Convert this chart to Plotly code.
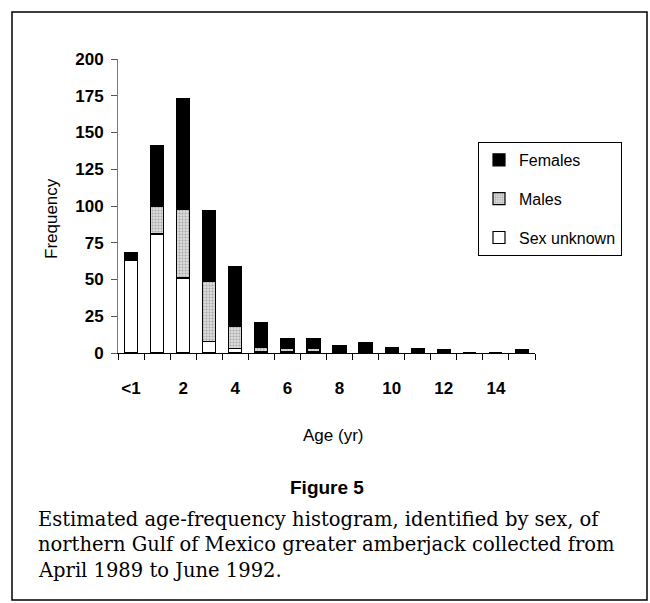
import plotly.graph_objects as go

# ---- data ----
ages = [0, 1, 2, 3, 4, 5, 6, 7, 8, 9, 10, 11, 12, 13, 14, 15]
tick_vals = [0, 2, 4, 6, 8, 10, 12, 14]
tick_text = ["<1", "2", "4", "6", "8", "10", "12", "14"]
sex_unknown = [63, 81, 51, 8, 3, 1, 1, 1, 0, 0, 0, 0, 0, 0, 0, 0]
males = [0, 19, 47, 41, 15, 3, 2, 2, 0, 1, 0, 0, 0, 0, 0, 0]
females = [5, 41, 75, 48, 41, 17, 7, 7, 5, 6, 4, 3, 2, 0, 0, 2]
y_ticks = [0, 25, 50, 75, 100, 125, 150, 175, 200]
grid_vals = [25, 50, 75, 100, 125, 150, 175]

W, H = 650, 603
L, R, T, B = 118, 535, 59, 353  # plot area in pixels


def px(x):
    return (x - L) / (R - L)


def py(y):
    return (B - y) / (B - T)


fig = go.Figure()
fig.add_trace(go.Bar(
    x=ages, y=sex_unknown, name="Sex unknown", legendgroup="c", legendrank=3,
    marker=dict(color="white", line=dict(color="black", width=1.2)),
))
fig.add_trace(go.Bar(
    x=ages, y=males, name="Males", legendgroup="b", legendrank=2,
    marker=dict(color="#d4d4d4", line=dict(color="black", width=1.2),
                pattern=dict(shape=".", fgcolor="#707070", bgcolor="#dcdcdc",
                             size=3, solidity=0.35)),
))
fig.add_trace(go.Bar(
    x=ages, y=females, name="Females", legendgroup="a", legendrank=1,
    marker=dict(color="black", line=dict(color="black", width=1.2)),
))

font_sans = "Liberation Sans, Arial, sans-serif"

fig.update_layout(
    barmode="stack",
    bargap=0.5,
    width=W, height=H,
    margin=dict(l=L, r=W - R, t=T, b=H - B, pad=0),
    paper_bgcolor="white",
    plot_bgcolor="white",
    showlegend=True,
    legend=dict(
        x=px(478), y=py(142), xanchor="left", yanchor="top",
        bgcolor="white", bordercolor="black", borderwidth=1,
        font=dict(family=font_sans, size=16, color="black"),
        traceorder="grouped", tracegroupgap=15,
    ),
    xaxis=dict(
        range=[-0.5, 15.5],
        tickmode="array", tickvals=tick_vals, ticktext=tick_text,
        ticks="", showgrid=False, zeroline=False,
        showline=True, linecolor="black", linewidth=1,
        tickfont=dict(family=font_sans, size=17, color="black", weight="bold"),
        ticklabelstandoff=20,
        minor=dict(tickvals=[v - 0.5 for v in ages] + [15.5], ticks="outside",
                   ticklen=6, tickcolor="black", tickwidth=1, showgrid=False),
    ),
    yaxis=dict(
        range=[0, 200],
        tickmode="array", tickvals=y_ticks,
        ticks="outside", ticklen=6, tickcolor="#555", tickwidth=1,
        showgrid=False, zeroline=False,
        showline=True, linecolor="#777", linewidth=1,
        tickfont=dict(family=font_sans, size=17, color="black", weight="bold"),
        ticklabelstandoff=4,
    ),
    yaxis2=dict(
        overlaying="y", side="left", range=[0, 200],
        tickmode="array", tickvals=grid_vals, showticklabels=False, ticks="",
        showgrid=True, gridcolor="black", gridwidth=1,
        zeroline=False, showline=False,
    ),
)

fig.add_shape(type="rect", xref="paper", yref="paper",
              x0=px(12), x1=px(647), y0=py(600), y1=py(12),
              line=dict(color="black", width=1.5), layer="below")

fig.add_annotation(text="Frequency", xref="paper", yref="paper",
                   x=px(52), y=py(219), showarrow=False, textangle=-90,
                   xanchor="center", yanchor="middle",
                   font=dict(family=font_sans, size=17, color="#000000"))
fig.add_annotation(text="Age (yr)", xref="paper", yref="paper",
                   x=px(333), y=py(435), showarrow=False,
                   xanchor="center", yanchor="middle",
                   font=dict(family=font_sans, size=17, color="black"))
fig.add_annotation(text="<b>Figure 5</b>", xref="paper", yref="paper",
                   x=px(327), y=py(487), showarrow=False,
                   xanchor="center", yanchor="middle",
                   font=dict(family=font_sans, size=19, color="black"))

caption = [
    "Estimated age-frequency histogram, identified by sex, of",
    "northern Gulf of Mexico greater amberjack collected from",
    "April 1989 to June 1992.",
]
for i, line in enumerate(caption):
    fig.add_annotation(text=line, xref="paper", yref="paper",
                       x=px(36), y=py(519 + 25.5 * i),
                       xanchor="left", yanchor="middle",
                       showarrow=False,
                       font=dict(family="DejaVu Serif, serif", size=19.5,
                                 color="black"))

fig.write_html(
    "out.html",
    config={"displayModeBar": False},
    post_script="document.body.style.margin='0';"
                "document.body.style.padding='0';"
                "document.body.style.overflow='hidden';",
)
